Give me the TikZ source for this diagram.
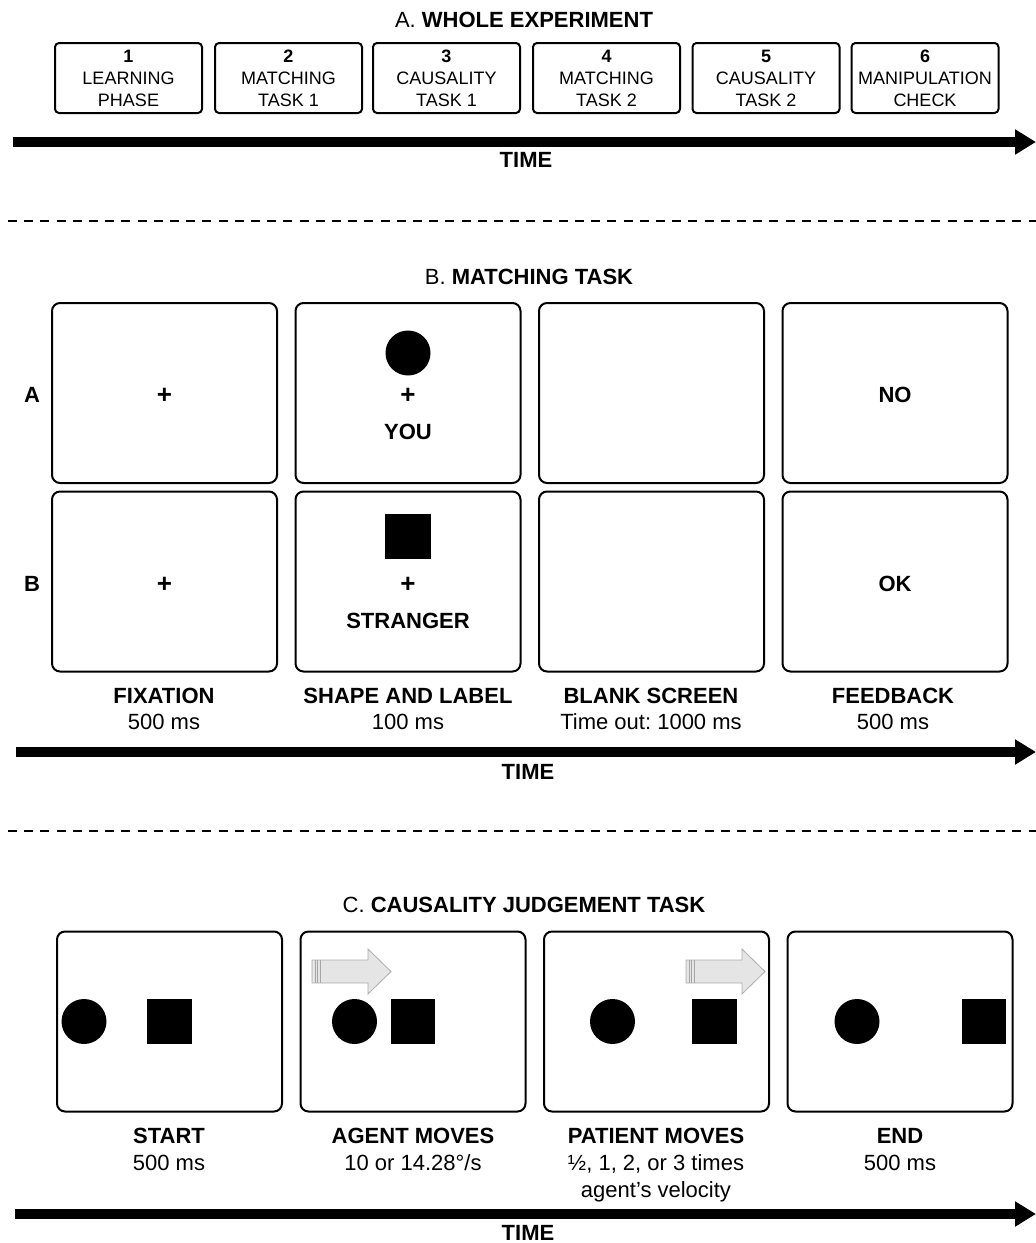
\documentclass[tikz,border=0pt]{standalone}
\usepackage{fontspec}
\setmainfont{Liberation Sans}
\usetikzlibrary{arrows.meta}
\frenchspacing
\begin{document}
\begin{tikzpicture}[x=0.5pt,y=-0.5pt,
  screen/.style={draw, line width=1pt, rounded corners=4pt, minimum width=112.5pt, minimum height=90pt, inner sep=0pt, outer sep=0pt},
  phasebox/.style={draw, line width=1pt, rounded corners=2pt, minimum width=73.5pt, minimum height=35pt, inner sep=0pt, align=center, font=\fontsize{9}{11}\selectfont},
  txt/.style={anchor=base, inner sep=0pt, font=\fontsize{11}{13}\selectfont},
  btxt/.style={anchor=base, inner sep=0pt, font=\fontsize{11}{13}\selectfont\bfseries},
  plustxt/.style={anchor=base, inner sep=0pt, font=\fontsize{13}{15}\selectfont\bfseries},
  timeline/.style={line width=5pt, -{Triangle[length=10.5pt,width=12pt]}},
  sepline/.style={line width=1.4pt, dash pattern=on 4.5pt off 3.6pt},
  blob/.style={fill=black},
  motion/.style={fill=gray!20, draw=gray!65, line width=0.4pt}
]
\useasboundingbox (0,0) rectangle (1036,1243);

% ---------------- A. WHOLE EXPERIMENT ----------------
\node[txt] (titleA) at (524,27.5) {A. \textbf{WHOLE EXPERIMENT}};
\node[phasebox] (p1) at (128.5,78) {\textbf{1}\\LEARNING\\PHASE};
\node[phasebox] (p2) at (288.5,78) {\textbf{2}\\MATCHING\\TASK 1};
\node[phasebox] (p3) at (446.5,78) {\textbf{3}\\CAUSALITY\\TASK 1};
\node[phasebox] (p4) at (606.5,78) {\textbf{4}\\MATCHING\\TASK 2};
\node[phasebox] (p5) at (766,78) {\textbf{5}\\CAUSALITY\\TASK 2};
\node[phasebox] (p6) at (925,78) {\textbf{6}\\MANIPULATION\\CHECK};
\coordinate (ta0) at (13,142);
\coordinate (ta1) at (1036,142);
\draw[timeline] (ta0) -- (ta1);
\node[btxt] (timeA) at (526,167) {TIME};

\coordinate (d10) at (8,221);
\coordinate (d11) at (1036,221);
\draw[sepline] (d10) -- (d11);

% ---------------- B. MATCHING TASK ----------------
\node[txt] (titleB) at (529,284.5) {B. \textbf{MATCHING TASK}};
\node[btxt] (rowA) at (32,402) {A};
\node[btxt] (rowB) at (32,591) {B};

\node[screen] (fixA) at (164.5,393) {};
\node[screen] (shpA) at (408,393) {};
\node[screen] (blkA) at (651.5,393) {};
\node[screen] (fbA) at (895,393) {};
\node[screen] (fixB) at (164.5,581.5) {};
\node[screen] (shpB) at (408,581.5) {};
\node[screen] (blkB) at (651.5,581.5) {};
\node[screen] (fbB) at (895,581.5) {};

\node[plustxt] (plusA1) at (164.5,403) {+};
\fill[blob] (408,353) circle[radius=11.25pt];
\node[plustxt] (plusA2) at (408,403) {+};
\node[btxt] (you) at (408,439) {YOU};
\node[btxt] (no) at (895,402) {NO};

\node[plustxt] (plusB1) at (164.5,592) {+};
\fill[blob] (385,514) rectangle (431,559);
\node[plustxt] (plusB2) at (408,592) {+};
\node[btxt] (stranger) at (408,628) {STRANGER};
\node[btxt] (ok) at (895,591) {OK};

\node[btxt] (lfix) at (164,703) {FIXATION};
\node[txt] (tfix) at (164,729) {500 ms};
\node[btxt] (lshp) at (408,703) {SHAPE AND LABEL};
\node[txt] (tshp) at (408,729) {100 ms};
\node[btxt] (lblk) at (651,703) {BLANK SCREEN};
\node[txt] (tblk) at (651,729) {Time out: 1000 ms};
\node[btxt] (lfb) at (893,703) {FEEDBACK};
\node[txt] (tfb) at (893,729) {500 ms};

\coordinate (tb0) at (16,752);
\coordinate (tb1) at (1036,752);
\draw[timeline] (tb0) -- (tb1);
\node[btxt] (timeB) at (528,779) {TIME};

\coordinate (d20) at (8,831);
\coordinate (d21) at (1036,831);
\draw[sepline] (d20) -- (d21);

% ---------------- C. CAUSALITY JUDGEMENT TASK ----------------
\node[txt] (titleC) at (524,912.5) {C. \textbf{CAUSALITY JUDGEMENT TASK}};

\node[screen] (start) at (169.5,1021.5) {};
\node[screen] (agent) at (413,1021.5) {};
\node[screen] (patient) at (656.5,1021.5) {};
\node[screen] (endscr) at (900,1021.5) {};

% start
\fill[blob] (84,1021.5) circle[radius=11.25pt];
\fill[blob] (147,999) rectangle (192,1044);
% agent moves
\fill[blob] (354.5,1021.5) circle[radius=11.25pt];
\fill[blob] (391,999) rectangle (435,1044);
\draw[motion] (312,960) -- (368,960) -- (368,949) -- (391,971.5) -- (368,994) -- (368,983) -- (312,983) -- cycle;
\draw[gray!70, line width=0.4pt] (315,960) -- (315,983) (317.5,960) -- (317.5,983) (320,960) -- (320,983);
% patient moves
\fill[blob] (612.5,1021.5) circle[radius=11.25pt];
\fill[blob] (692,999) rectangle (737,1044);
\draw[motion] (686,960) -- (742,960) -- (742,949) -- (765,971.5) -- (742,994) -- (742,983) -- (686,983) -- cycle;
\draw[gray!70, line width=0.4pt] (689,960) -- (689,983) (691.5,960) -- (691.5,983) (694,960) -- (694,983);
% end
\fill[blob] (857,1021.5) circle[radius=11.25pt];
\fill[blob] (962,999) rectangle (1006,1044);

\node[btxt] (lstart) at (169,1143) {START};
\node[txt] (tstart) at (169,1170) {500 ms};
\node[btxt] (lagent) at (413,1143) {AGENT MOVES};
\node[txt] (tagent) at (413,1170) {10 or 14.28°/s};
\node[btxt] (lpat) at (656,1143) {PATIENT MOVES};
\node[txt] (tpat) at (656,1170) {½, 1, 2, or 3 times};
\node[txt] (tpat2) at (656,1197) {agent’s velocity};
\node[btxt] (lend) at (900,1143) {END};
\node[txt] (tend) at (900,1170) {500 ms};

\coordinate (tc0) at (15,1214);
\coordinate (tc1) at (1036,1214);
\draw[timeline] (tc0) -- (tc1);
\node[btxt] (timeC) at (528,1240) {TIME};
\end{tikzpicture}
\end{document}
